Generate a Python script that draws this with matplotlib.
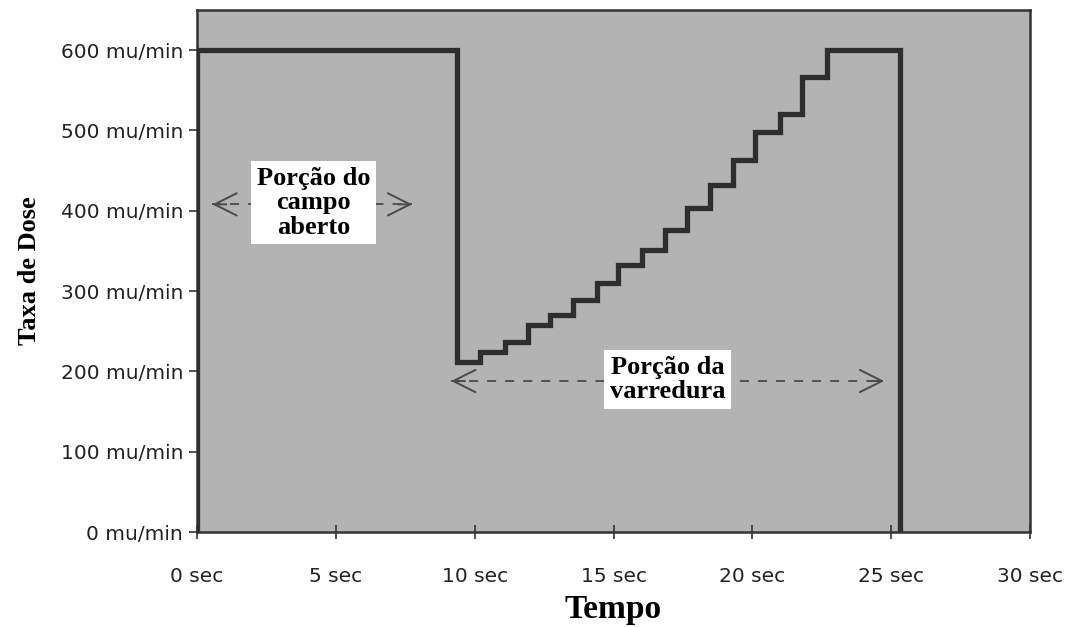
import matplotlib
matplotlib.use("Agg")
import matplotlib.pyplot as plt

# --------------------------
# Dados
# --------------------------
tempos = [0, 0, 9.35, 10.19, 11.09, 11.92, 12.71, 13.54, 14.40, 15.16, 16.02,
          16.85, 17.64, 18.47, 19.30, 20.09, 20.99, 21.79, 22.69, 25.31]
taxas = [0, 600, 212, 224, 236, 258, 270, 289, 310, 332, 351,
         376, 403, 432, 463, 498, 521, 567, 600, 0]

x_ticks = [0, 5, 10, 15, 20, 25, 30]
y_ticks = [0, 100, 200, 300, 400, 500, 600]

# setas das porcoes (inicio, fim, nivel)
seta_aberto = (0.55, 7.75, 408)
seta_varredura = (9.15, 24.75, 188)

# --------------------------
# Figura
# --------------------------
fig = plt.figure(figsize=(10.71, 6.27), dpi=100)
ax = fig.add_axes([0.184, 0.1515, 0.7777, 0.8325])
ax.set_facecolor("#b3b3b3")

ax.step(tempos, taxas, where="post", color="#2e2e2e", linewidth=3.8,
        solid_joinstyle="miter", zorder=3)

ax.set_xlim(0, 30)
ax.set_ylim(0, 650)

for sp in ax.spines.values():
    sp.set_color("#333333")
    sp.set_linewidth(1.8)

ax.set_xticks(x_ticks)
ax.set_xticklabels([f"{t} sec" for t in x_ticks])
ax.set_yticks(y_ticks)
ax.set_yticklabels([f"{v} mu/min" for v in y_ticks])

for lb in ax.get_xticklabels() + ax.get_yticklabels():
    lb.set_family("DejaVu Sans")
    lb.set_fontsize(14.5)
    lb.set_color("#222222")

ax.tick_params(axis="x", direction="inout", length=10, width=1.2,
               color="#333333", pad=20)
ax.tick_params(axis="y", direction="out", length=6, width=1.2,
               color="#333333", pad=4)

ax.set_xlabel("Tempo", fontfamily="Liberation Serif", fontweight="bold",
              fontsize=24, labelpad=6)
ax.set_ylabel("Taxa de Dose", fontfamily="Liberation Serif", fontweight="bold",
              fontsize=19, labelpad=14)

# --------------------------
# Anotacoes: linha tracejada + pontas abertas
# --------------------------
for x0, x1, y in (seta_aberto, seta_varredura):
    ax.plot([x0, x1], [y, y], color="#4a4a4a", lw=1.3,
            linestyle=(0, (5, 5)), zorder=2)
    for origem, ponta in ((x0 + 0.5, x0), (x1 - 0.5, x1)):
        ax.annotate("", xy=(ponta, y), xytext=(origem, y),
                    arrowprops=dict(arrowstyle="->", color="#4a4a4a", lw=1.4,
                                    mutation_scale=40, shrinkA=0, shrinkB=0),
                    zorder=2)

caixa = dict(facecolor="white", edgecolor="none", pad=4)
ax.text(4.2, 410, "Porção do\ncampo\naberto", ha="center", va="center",
        fontfamily="Liberation Serif", fontweight="bold", fontsize=19,
        linespacing=1.08, bbox=caixa, zorder=4)
ax.text(16.95, 190, "Porção da\nvarredura", ha="center", va="center",
        fontfamily="Liberation Serif", fontweight="bold", fontsize=19,
        linespacing=1.08, bbox=caixa, zorder=4)

plt.savefig("out.png", dpi=100)
